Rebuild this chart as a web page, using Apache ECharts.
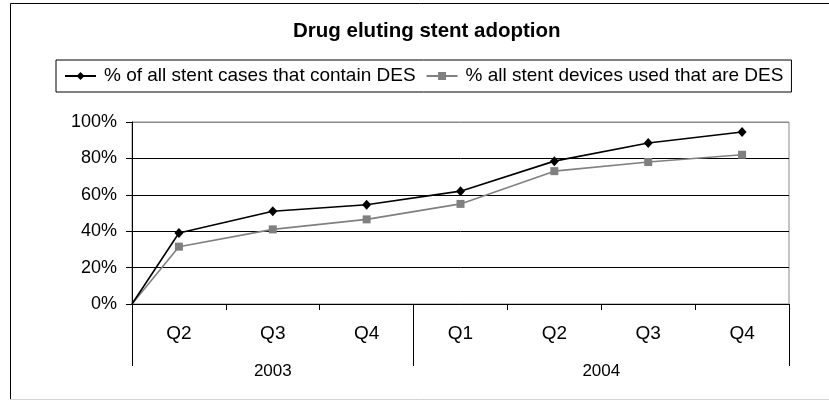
<!DOCTYPE html>
<html>
<head>
<meta charset="utf-8">
<script src="https://cdn.jsdelivr.net/npm/echarts@6/dist/echarts.min.js"></script>
<style>
  html, body { margin: 0; padding: 0; background: #fff; }
  #chart { width: 829px; height: 400px; }
</style>
</head>
<body>
<div id="chart"></div>
<script>
// Quarterly DES adoption, Q2 2003 – Q4 2004
const quarters = ['Q2', 'Q3', 'Q4', 'Q1', 'Q2', 'Q3', 'Q4'];
const years = ['2003', '2004'];
const quartersPerYear = [3, 4];
const startShare = 0; // both series start from zero at the left edge
const casesWithDES = [39, 51, 54.5, 62, 78.5, 88.5, 94.5];
const devicesDES = [31.5, 41, 46.5, 55, 73, 78, 82];
const yTicks = [0, 20, 40, 60, 80, 100];

const FONT = '"Liberation Sans", Arial, sans-serif';
const nQ = quarters.length;

// quarter i sits at the centre of slot [i, i+1] on a 0..nQ value scale
function toPoints(values) {
  const pts = [{ value: [0, startShare], symbol: 'none' }];
  values.forEach((v, i) => pts.push([i + 0.5, v]));
  return pts;
}

const yearEdges = [0];
quartersPerYear.forEach(n => yearEdges.push(yearEdges[yearEdges.length - 1] + n));
const yearMids = years.map((_, i) => (yearEdges[i] + yearEdges[i + 1]) / 2);

const chart = echarts.init(document.getElementById('chart'), null, { renderer: 'canvas' });

chart.setOption({
  animation: false,
  backgroundColor: '#fff',
  textStyle: { fontFamily: FONT },
  title: {
    text: 'Drug eluting stent adoption',
    left: 288,
    top: 16,
    textStyle: { fontFamily: FONT, fontSize: 20.5, fontWeight: 'bold', color: '#000' }
  },
  legend: {
    left: 56,
    top: 60,
    orient: 'horizontal',
    borderColor: '#000',
    borderWidth: 1,
    padding: [6, 8, 6, 8],
    itemWidth: 31,
    itemHeight: 10,
    itemGap: 10,
    textStyle: { fontFamily: FONT, fontSize: 19, color: '#000', lineHeight: 20, padding: [0, 0, 0, 3] },
    data: ['% of all stent cases that contain DES', '% all stent devices used that are DES']
  },
  grid: {
    left: 132,
    right: 40,
    top: 122,
    bottom: 96,
    show: true,
    borderColor: '#8a8a8a',
    borderWidth: 1,
    backgroundColor: 'transparent',
    containLabel: false
  },
  xAxis: [
    {
      type: 'value',
      min: 0,
      max: nQ,
      interval: 1,
      axisLine: { show: true, onZero: false, lineStyle: { color: '#000', width: 1 } },
      axisTick: {
        show: true, inside: false, length: 6,
        customValues: quarters.map((_, i) => i).concat([nQ]),
        lineStyle: { color: '#000' }
      },
      axisLabel: {
        customValues: quarters.map((_, i) => i + 0.5),
        formatter: v => quarters[Math.floor(v)],
        margin: 20,
        fontFamily: FONT, fontSize: 19, color: '#000'
      },
      splitLine: { show: false }
    },
    {
      type: 'value',
      min: 0,
      max: nQ,
      position: 'bottom',
      axisLine: { show: false },
      axisTick: {
        show: true, inside: false, length: 62,
        customValues: yearEdges,
        lineStyle: { color: '#000' }
      },
      axisLabel: {
        customValues: yearMids,
        formatter: v => years[yearMids.indexOf(v)],
        margin: 59,
        fontFamily: FONT, fontSize: 17, color: '#000'
      },
      splitLine: { show: false }
    }
  ],
  yAxis: {
    type: 'value',
    min: 0,
    max: 100,
    interval: 20,
    axisLine: { show: true, lineStyle: { color: '#000', width: 1 } },
    axisTick: { show: true, inside: false, length: 6, lineStyle: { color: '#000' } },
    axisLabel: {
      formatter: v => v + '%',
      margin: 15,
      fontFamily: FONT, fontSize: 18, color: '#000'
    },
    splitLine: {
      show: true,
      lineStyle: {
        color: yTicks.map(t => (t === 100 ? '#8a8a8a' : '#000')),
        width: 1
      }
    }
  },
  series: [
    {
      name: '% of all stent cases that contain DES',
      type: 'line',
      xAxisIndex: 0,
      data: toPoints(casesWithDES),
      symbol: 'diamond',
      symbolSize: [9, 10],
      lineStyle: { color: '#000', width: 1.6 },
      itemStyle: { color: '#000' },
      z: 3
    },
    {
      name: '% all stent devices used that are DES',
      type: 'line',
      xAxisIndex: 0,
      data: toPoints(devicesDES),
      symbol: 'rect',
      symbolSize: 8,
      lineStyle: { color: '#808080', width: 1.6 },
      itemStyle: { color: '#808080' },
      z: 2
    }
  ],
  graphic: [
    {
      // chart-area frame: left and top edges (the right edge runs past the canvas)
      type: 'polyline',
      shape: { points: [[10.5, 399], [10.5, 3.5], [829, 3.5]] },
      style: { fill: 'none', stroke: '#000', lineWidth: 1 },
      silent: true,
      z: -1
    },
    {
      type: 'line',
      shape: { x1: 10, y1: 399.5, x2: 829, y2: 399.5 },
      style: { stroke: '#d4d4d4', lineWidth: 1 },
      silent: true,
      z: -1
    }
  ]
});
</script>
</body>
</html>
